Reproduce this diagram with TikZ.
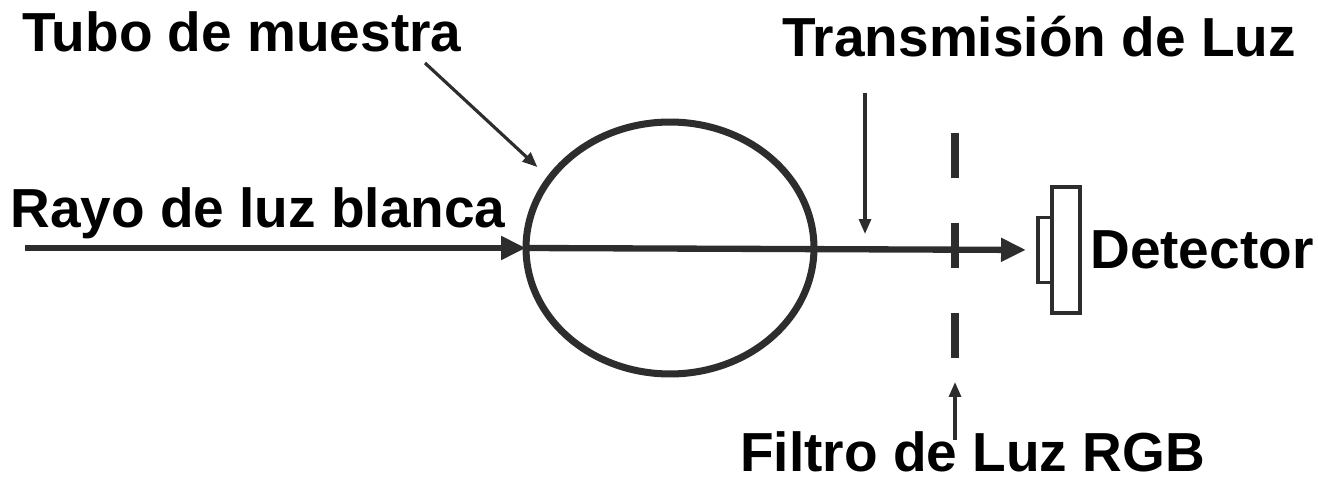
\documentclass[tikz,border=0pt]{standalone}
\usepackage{fontspec}
\setmainfont{Liberation Sans}
\usepackage{tikz}
\usetikzlibrary{positioning,calc}
\usetikzlibrary{arrows.meta,shapes.geometric}
\definecolor{InkGray}{RGB}{45,45,45}
\tikzset{
  ray/.style={draw=InkGray,line width=3.6pt,-{Triangle[length=0.5cm,width=0.45cm]}},
  pointer/.style={draw=InkGray,line width=1.8pt,-{Triangle[length=0.3cm,width=0.24cm]}},
  filter/.style={draw=InkGray,line width=5pt,dash pattern=on 0.9cm off 0.9cm},
  tube/.style={ellipse,draw=InkGray,line width=4pt,inner sep=0pt,outer sep=0pt,
    minimum width=5.76cm,minimum height=5.04cm},
}
\tikzset{box/.style={rectangle,draw=InkGray,line width=1.8pt,inner sep=0pt,outer sep=0pt,fill=white}, lab/.style={inner sep=0pt,font=\fontsize{31.3}{36}\selectfont\bfseries}}

\begin{document}
\begin{tikzpicture}[x=0.02cm,y=-0.02cm]
\useasboundingbox (0,0) rectangle (1318,482);
\coordinate (src) at (25,248);
\coordinate (ftop) at (955,133);
\coordinate (fbot) at (955,358);
\coordinate (tubtail) at (425,63);
\coordinate (trtail) at (865,93);
\coordinate (fitail) at (955,440);
\node[tube] (tube) at (670,248) {};
\node[box,minimum width=0.56cm,minimum height=2.52cm] (det) at (1066,250) {};
\node[box,minimum width=0.28cm,minimum height=1.3cm,left=0pt of det] (sens) {};
\draw[filter] (ftop)--(fbot);
\draw[ray] (src)--(tube.west);
\draw[ray,shorten >=0.24cm] (tube.west)--(sens.west);
\draw[pointer,shorten >=0.34cm] (tubtail)--(tube.150);
\draw[pointer,shorten >=0.28cm] (trtail)--(trtail |- tube.center);
\draw[pointer,shorten >=0.48cm] (fitail)--(fbot);
\node[lab,anchor=base west] (tubelab) at (22,52) {Tubo de muestra};
\node[lab,anchor=base west] (translab) at (782,57) {Transmisión de Luz};
\node[lab,anchor=base west] (raylab) at (10,228) {Rayo de luz blanca};
\node[lab,anchor=base west] (filtlab) at (740,472) {Filtro de Luz RGB};
\node[lab,right=0.2cm of det] (detlab) {Detector};
\end{tikzpicture}
\end{document}
